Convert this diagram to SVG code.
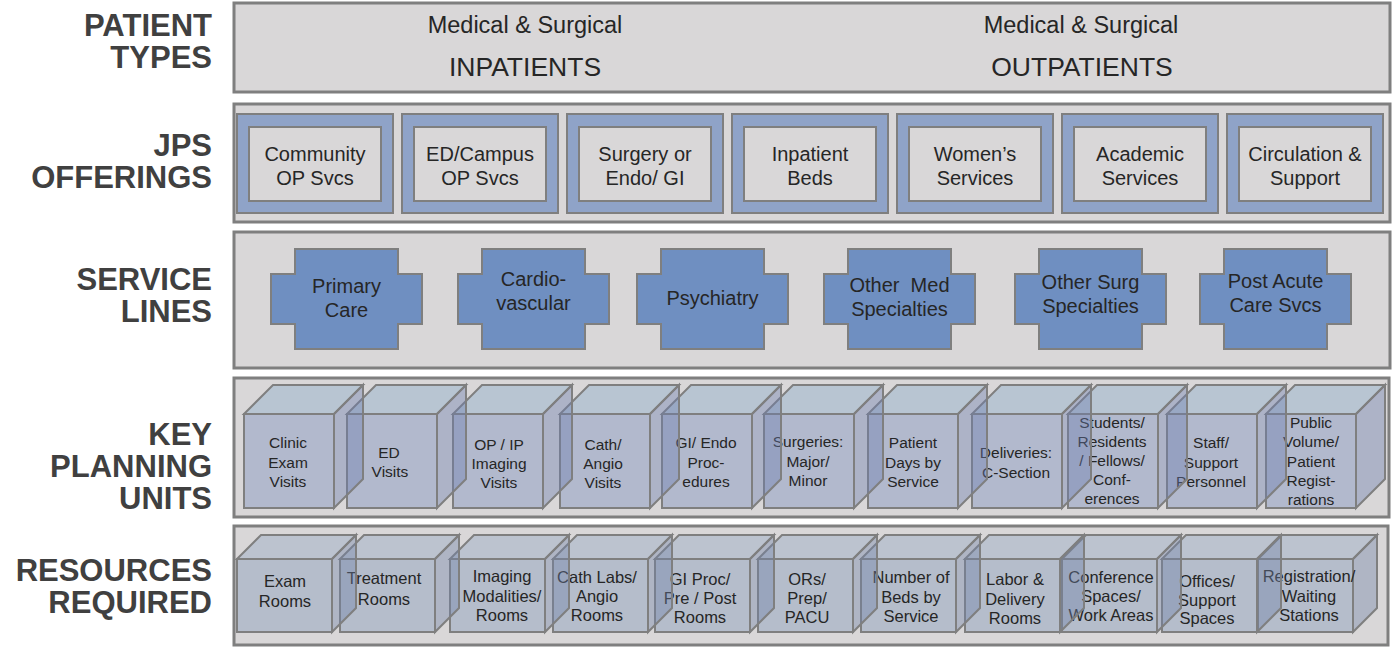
<svg xmlns="http://www.w3.org/2000/svg" xmlns:xlink="http://www.w3.org/1999/xlink" width="1395" height="647" viewBox="0 0 1395 647">
  <style>
    .band{fill:#d9d7d8;stroke:#7f7f7f;stroke-width:3}
    .lbl{font-family:"Liberation Sans",Arial,sans-serif;font-weight:bold;font-size:31px;fill:#404040;text-anchor:end}
    .t{font-family:"Liberation Sans",Arial,sans-serif;fill:#262626;text-anchor:middle}
    .pt1{font-size:23.5px}
    .pt2{font-size:26.5px}
    .of{font-size:20px}
    .sl{font-size:20px}
    .ku{font-size:15.5px}
    .rr{font-size:16.5px}
    .frame{fill:#8fa3c8;stroke:#7f7f7f;stroke-width:2}
    .inner{fill:#d9d7d8;stroke:#7f7f7f;stroke-width:2}
    .cross{fill:#6f8fc1;stroke:#7f7f7f;stroke-width:2}
    .kfront{fill:#798bbe;fill-opacity:.4;stroke:#7f7f7f;stroke-width:2}
    .ktop{fill:#86a9cb;fill-opacity:.4;stroke:#7f7f7f;stroke-width:2}
    .kside{fill:#6c7caf;fill-opacity:.4;stroke:#7f7f7f;stroke-width:2}
    .rfront{fill:#8095b9;fill-opacity:.4;stroke:#7f7f7f;stroke-width:2}
    .rtop{fill:#92a6c3;fill-opacity:.4;stroke:#7f7f7f;stroke-width:2}
    .rside{fill:#7181a7;fill-opacity:.4;stroke:#7f7f7f;stroke-width:2}
  </style>
  <defs>
    <!-- notched service-line shape -->
    <path id="plus" class="cross" d="M24,0H127V25H151V75H127V100H24V75H0V25H24Z"/>
    <!-- planning-unit cube: front face origin at (0,0) -->
    <g id="kpuCube">
      <rect class="kfront" x="0" y="0" width="90" height="94"/>
      <polygon class="ktop" points="0,0 29,-29 119,-29 90,0"/>
      <polygon class="kside" points="90,0 119,-29 119,65 90,94"/>
    </g>
    <!-- resource cube: front face origin at (0,0) -->
    <g id="resCube">
      <rect class="rfront" x="0" y="0" width="95" height="73"/>
      <polygon class="rtop" points="0,0 24,-24 119,-24 95,0"/>
      <polygon class="rside" points="95,0 119,-24 119,49 95,73"/>
    </g>
    <!-- offering tile: blue frame with grey inset -->
    <g id="offerTile">
      <rect class="frame" x="0" y="0" width="156" height="99"/>
      <rect class="inner" x="12" y="13" width="132" height="74"/>
    </g>
  </defs>

  <!-- row bands -->
  <g id="bands">
    <rect id="band-patient-types" class="band" x="234" y="3" width="1156" height="89"/>
    <rect id="band-offerings" class="band" x="234" y="104" width="1156" height="118"/>
    <rect id="band-service-lines" class="band" x="234" y="232" width="1156" height="136"/>
    <rect id="band-planning-units" class="band" x="234" y="378" width="1155" height="139"/>
    <rect id="band-resources" class="band" x="234" y="526" width="1154" height="119"/>
  </g>

  <!-- row headings -->
  <g id="row-labels" class="lbl">
    <text x="212" y="36">PATIENT</text>
    <text x="212" y="68">TYPES</text>
    <text x="212" y="156">JPS</text>
    <text x="212" y="188">OFFERINGS</text>
    <text x="212" y="290">SERVICE</text>
    <text x="212" y="322">LINES</text>
    <text x="212" y="445">KEY</text>
    <text x="212" y="477">PLANNING</text>
    <text x="212" y="509">UNITS</text>
    <text x="212" y="581">RESOURCES</text>
    <text x="212" y="613">REQUIRED</text>
  </g>

  <!-- patient types -->
  <g id="pt-inpatients" class="t">
    <text class="pt1" x="525" y="33">Medical &amp; Surgical</text>
    <text class="pt2" x="525" y="76">INPATIENTS</text>
  </g>
  <g id="pt-outpatients" class="t">
    <text class="pt1" x="1081" y="33">Medical &amp; Surgical</text>
    <text class="pt2" x="1082" y="76">OUTPATIENTS</text>
  </g>

  <!-- offerings -->
  <g id="of-community" transform="translate(237,114)"><use xlink:href="#offerTile"/>
    <text class="t of" x="78" y="47">Community<tspan x="78" dy="24">OP Svcs</tspan></text></g>
  <g id="of-ed-campus" transform="translate(402,114)"><use xlink:href="#offerTile"/>
    <text class="t of" x="78" y="47">ED/Campus<tspan x="78" dy="24">OP Svcs</tspan></text></g>
  <g id="of-surgery" transform="translate(567,114)"><use xlink:href="#offerTile"/>
    <text class="t of" x="78" y="47">Surgery or<tspan x="78" dy="24">Endo/ GI</tspan></text></g>
  <g id="of-inpatient-beds" transform="translate(732,114)"><use xlink:href="#offerTile"/>
    <text class="t of" x="78" y="47">Inpatient<tspan x="78" dy="24">Beds</tspan></text></g>
  <g id="of-womens" transform="translate(897,114)"><use xlink:href="#offerTile"/>
    <text class="t of" x="78" y="47">Women’s<tspan x="78" dy="24">Services</tspan></text></g>
  <g id="of-academic" transform="translate(1062,114)"><use xlink:href="#offerTile"/>
    <text class="t of" x="78" y="47">Academic<tspan x="78" dy="24">Services</tspan></text></g>
  <g id="of-circulation" transform="translate(1227,114)"><use xlink:href="#offerTile"/>
    <text class="t of" x="78" y="47">Circulation &amp;<tspan x="78" dy="24">Support</tspan></text></g>

  <!-- service lines -->
  <g id="sl-primary-care" transform="translate(271,249)"><use xlink:href="#plus"/>
    <text class="t sl" x="75.5" y="44">Primary<tspan x="75.5" dy="24">Care</tspan></text></g>
  <g id="sl-cardiovascular" transform="translate(458,249)"><use xlink:href="#plus"/>
    <text class="t sl" x="75.5" y="37">Cardio-<tspan x="75.5" dy="24">vascular</tspan></text></g>
  <g id="sl-psychiatry" transform="translate(637,249)"><use xlink:href="#plus"/>
    <text class="t sl" x="75.5" y="56">Psychiatry</text></g>
  <g id="sl-other-med" transform="translate(824,249)"><use xlink:href="#plus"/>
    <text class="t sl" x="75.5" y="43">Other&#160; Med<tspan x="75.5" dy="24">Specialties</tspan></text></g>
  <g id="sl-other-surg" transform="translate(1015,249)"><use xlink:href="#plus"/>
    <text class="t sl" x="75.5" y="40">Other Surg<tspan x="75.5" dy="24">Specialties</tspan></text></g>
  <g id="sl-post-acute" transform="translate(1200,249)"><use xlink:href="#plus"/>
    <text class="t sl" x="75.5" y="39">Post Acute<tspan x="75.5" dy="24">Care Svcs</tspan></text></g>

  <!-- key planning units (stacked right to left so each side face sits over its neighbour) -->
  <g id="kpu-public" transform="translate(1266,414)"><use xlink:href="#kpuCube"/>
    <text class="t ku" x="45" y="14">Public<tspan x="45" dy="19.3">Volume/</tspan><tspan x="45" dy="19.3">Patient</tspan><tspan x="45" dy="19.3">Regist-</tspan><tspan x="45" dy="19.3">rations</tspan></text></g>
  <g id="kpu-staff" transform="translate(1167,414)"><use xlink:href="#kpuCube"/>
    <text class="t ku" x="44" y="34">Staff/<tspan x="44" dy="19.5">Support</tspan><tspan x="44" dy="19.5">Personnel</tspan></text></g>
  <g id="kpu-students" transform="translate(1068,414)"><use xlink:href="#kpuCube"/>
    <text class="t ku" x="44" y="14">Students/<tspan x="44" dy="19">Residents</tspan><tspan x="44" dy="19">/ Fellows/</tspan><tspan x="44" dy="19">Conf-</tspan><tspan x="44" dy="19">erences</tspan></text></g>
  <g id="kpu-deliveries" transform="translate(972,414)"><use xlink:href="#kpuCube"/>
    <text class="t ku" x="44" y="44">Deliveries:<tspan x="44" dy="19.5">C-Section</tspan></text></g>
  <g id="kpu-patient-days" transform="translate(868,414)"><use xlink:href="#kpuCube"/>
    <text class="t ku" x="45" y="34">Patient<tspan x="45" dy="19.5">Days by</tspan><tspan x="45" dy="19.5">Service</tspan></text></g>
  <g id="kpu-surgeries" transform="translate(764,414)"><use xlink:href="#kpuCube"/>
    <text class="t ku" x="44" y="33">Surgeries:<tspan x="44" dy="19.5">Major/</tspan><tspan x="44" dy="19.5">Minor</tspan></text></g>
  <g id="kpu-gi-endo" transform="translate(662,414)"><use xlink:href="#kpuCube"/>
    <text class="t ku" x="44" y="34">GI/ Endo<tspan x="44" dy="19.5">Proc-</tspan><tspan x="44" dy="19.5">edures</tspan></text></g>
  <g id="kpu-cath" transform="translate(560,414)"><use xlink:href="#kpuCube"/>
    <text class="t ku" x="43" y="36">Cath/<tspan x="43" dy="19">Angio</tspan><tspan x="43" dy="19">Visits</tspan></text></g>
  <g id="kpu-imaging" transform="translate(453,414)"><use xlink:href="#kpuCube"/>
    <text class="t ku" x="46" y="36">OP / IP<tspan x="46" dy="19">Imaging</tspan><tspan x="46" dy="19">Visits</tspan></text></g>
  <g id="kpu-ed" transform="translate(347,414)"><use xlink:href="#kpuCube"/>
    <text class="t ku" x="42" y="44">ED<tspan x="43" dy="19">Visits</tspan></text></g>
  <g id="kpu-clinic" transform="translate(244,414)"><use xlink:href="#kpuCube"/>
    <text class="t ku" x="44" y="34">Clinic<tspan x="44" dy="19.5">Exam</tspan><tspan x="44" dy="19.5">Visits</tspan></text></g>

  <!-- resources required (stacked right to left) -->
  <g id="res-registration" transform="translate(1258,559)"><use xlink:href="#resCube"/>
    <text class="t rr" x="51" y="23">Registration/<tspan x="51" dy="19.5">Waiting</tspan><tspan x="51" dy="19.5">Stations</tspan></text></g>
  <g id="res-offices" transform="translate(1162,559)"><use xlink:href="#resCube"/>
    <text class="t rr" x="45" y="28">Offices/<tspan x="45" dy="18.5">Support</tspan><tspan x="45" dy="18.5">Spaces</tspan></text></g>
  <g id="res-conference" transform="translate(1062,559)"><use xlink:href="#resCube"/>
    <text class="t rr" x="49" y="24">Conference<tspan x="49" dy="19">Spaces/</tspan><tspan x="49" dy="19">Work Areas</tspan></text></g>
  <g id="res-labor" transform="translate(965,559)"><use xlink:href="#resCube"/>
    <text class="t rr" x="50" y="26">Labor &amp;<tspan x="50" dy="19.5">Delivery</tspan><tspan x="50" dy="19.5">Rooms</tspan></text></g>
  <g id="res-beds" transform="translate(861,559)"><use xlink:href="#resCube"/>
    <text class="t rr" x="50" y="24">Number of<tspan x="50" dy="19.5">Beds by</tspan><tspan x="50" dy="19.5">Service</tspan></text></g>
  <g id="res-ors" transform="translate(758,559)"><use xlink:href="#resCube"/>
    <text class="t rr" x="49" y="26">ORs/<tspan x="49" dy="19">Prep/</tspan><tspan x="49" dy="19">PACU</tspan></text></g>
  <g id="res-gi-proc" transform="translate(655,559)"><use xlink:href="#resCube"/>
    <text class="t rr" x="45" y="26">GI Proc/<tspan x="45" dy="19">Pre / Post</tspan><tspan x="45" dy="19">Rooms</tspan></text></g>
  <g id="res-cath-labs" transform="translate(553,559)"><use xlink:href="#resCube"/>
    <text class="t rr" x="44" y="24">Cath Labs/<tspan x="44" dy="19">Angio</tspan><tspan x="44" dy="19">Rooms</tspan></text></g>
  <g id="res-imaging" transform="translate(450,559)"><use xlink:href="#resCube"/>
    <text class="t rr" x="52" y="23">Imaging<tspan x="52" dy="19.5">Modalities/</tspan><tspan x="52" dy="19.5">Rooms</tspan></text></g>
  <g id="res-treatment" transform="translate(340,559)"><use xlink:href="#resCube"/>
    <text class="t rr" x="44" y="25">Treatment<tspan x="44" dy="21">Rooms</tspan></text></g>
  <g id="res-exam" transform="translate(237,559)"><use xlink:href="#resCube"/>
    <text class="t rr" x="48" y="28">Exam<tspan x="48" dy="20">Rooms</tspan></text></g>
</svg>
